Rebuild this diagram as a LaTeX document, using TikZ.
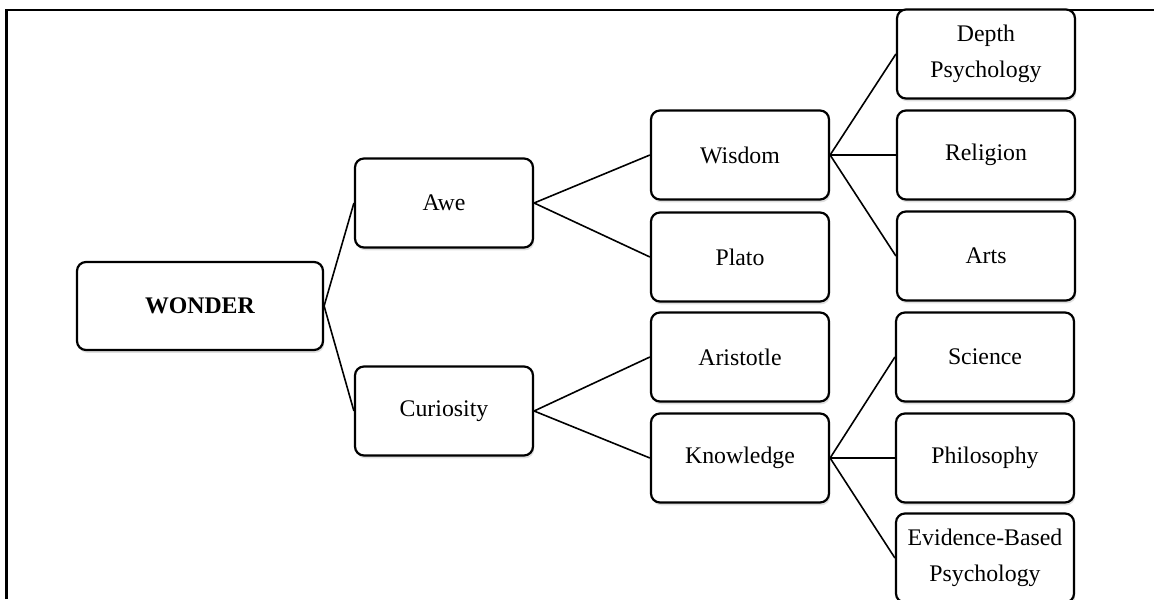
\documentclass[tikz,border=0pt]{standalone}
\usepackage{fontspec}
\setmainfont{Liberation Serif}
\usetikzlibrary{shadows}

\begin{document}
\begin{tikzpicture}[x=0.5pt, y=-0.5pt,
    box/.style={draw, line width=1.1pt, rounded corners=4.5pt, fill=white,
        minimum width=89pt, minimum height=44.5pt, inner sep=1pt, align=center,
        font=\fontsize{11.9}{17.7}\selectfont,
        drop shadow={opacity=0.25, shadow xshift=0.6pt, shadow yshift=-1.4pt}},
    link/.style={line width=0.8pt}]
    % page size and frame
    \useasboundingbox (0,0) rectangle (1154,599);
    \draw[line width=1.1pt] (6.5,599) -- (6.5,10) -- (1154,10);

    % root and first level
    \node[box, minimum width=123pt, minimum height=44pt] (wonder) at (200,306) {\textbf{WONDER}};
    \node[box] (awe) at (444,203) {Awe};
    \node[box] (curiosity) at (444,411) {Curiosity};

    % second level
    \node[box] (wisdom) at (740,155) {Wisdom};
    \node[box] (plato) at (740,257) {Plato};
    \node[box] (aristotle) at (740,357) {Aristotle};
    \node[box] (knowledge) at (740,458) {Knowledge};

    % third level
    \node[box] (depth) at (986,54) {Depth\\Psychology};
    \node[box] (religion) at (986,155) {Religion};
    \node[box] (arts) at (986,256) {Arts};
    \node[box] (science) at (985,357) {Science};
    \node[box] (philosophy) at (985,458) {Philosophy};
    \node[box] (evidence) at (985,558) {Evidence-Based\\Psychology};

    % connectors
    \foreach \c in {awe, curiosity}
        \draw[link] (wonder.east) -- (\c.west);
    \foreach \c in {wisdom, plato}
        \draw[link] (awe.east) -- (\c.west);
    \foreach \c in {aristotle, knowledge}
        \draw[link] (curiosity.east) -- (\c.west);
    \foreach \c in {depth, religion, arts}
        \draw[link] (wisdom.east) -- (\c.west);
    \foreach \c in {science, philosophy, evidence}
        \draw[link] (knowledge.east) -- (\c.west);

\end{tikzpicture}
\end{document}
